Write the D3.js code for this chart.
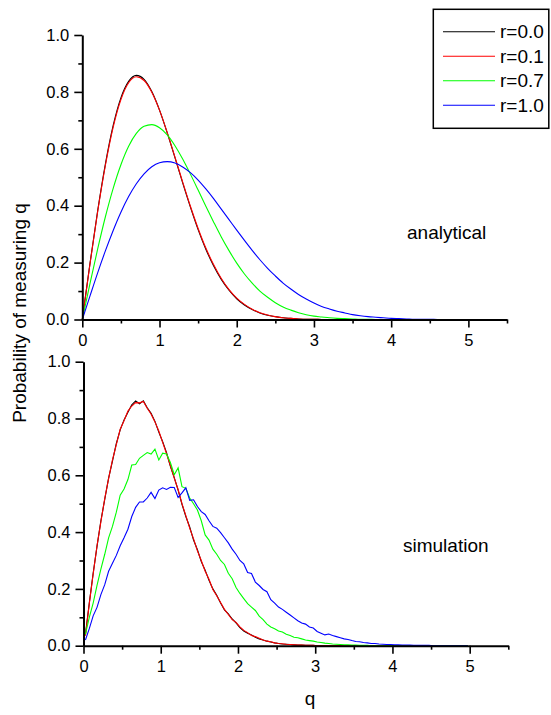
<!DOCTYPE html>
<html>
<head>
<meta charset="utf-8">
<script src="https://cdn.jsdelivr.net/npm/d3@7"></script>
<style>
body { margin: 0; background: #fff; }
svg text { font-family: "Liberation Sans", Arial, sans-serif; fill: #000; }
</style>
</head>
<body>
<script>
// q sampling of the analytical curves
var qAnalytic = [0,0.1,0.2,0.3,0.4,0.5,0.6,0.7,0.8,0.9,1.0,1.1,1.2,1.3,1.4,1.5,1.6,1.7,1.8,1.9,
    2.0,2.1,2.2,2.3,2.4,2.5,2.6,2.7,2.8,2.9,3.0,3.1,3.2,3.3,3.4,3.5,3.6,3.7,3.8,3.9,
    4.0,4.1,4.2,4.3,4.4,4.5,4.6,4.7,4.8,4.9,5.0];

var anaR00 = [0,0.198,0.384,0.548,0.682,0.779,0.837,0.858,0.844,0.801,0.736,0.656,0.569,0.480,0.395,0.316,0.247,0.189,0.141,0.103,
    0.073,0.051,0.035,0.023,0.015,0.010,0.006,0.004,0.002,0.001,0.001,
    0,0,0,0,0,0,0,0,0,0,0,0,0,0,0,0,0,0,0,0];
var anaR01 = [0,0.196,0.381,0.543,0.676,0.773,0.832,0.853,0.840,0.799,0.736,0.657,0.571,0.483,0.398,0.320,0.251,0.193,0.144,0.105,
    0.075,0.053,0.036,0.024,0.016,0.010,0.006,0.004,0.002,0.001,0.001,
    0,0,0,0,0,0,0,0,0,0,0,0,0,0,0,0,0,0,0,0];
var anaR07 = [0,0.127,0.249,0.362,0.461,0.544,0.609,0.654,0.679,0.685,0.674,0.649,0.611,0.564,0.511,0.455,0.398,0.343,0.290,0.242,
    0.198,0.160,0.128,0.100,0.078,0.059,0.044,0.033,0.024,0.017,0.012,0.009,0.006,0.004,0.003,0.002,0.001,0.001,
    0,0,0,0,0,0,0,0,0,0,0,0,0];
var anaR10 = [0,0.083,0.165,0.242,0.313,0.377,0.432,0.477,0.512,0.537,0.551,0.555,0.550,0.536,0.516,0.490,0.459,0.425,0.388,0.351,
    0.314,0.278,0.243,0.210,0.180,0.153,0.128,0.107,0.088,0.072,0.058,0.046,0.037,0.029,0.023,0.017,0.013,0.010,0.008,0.006,
    0.004,0.003,0.002,0.001,0.001,0.001,0,0,0,0,0];

// bin centres of the simulated histograms
var qSim = [0.025,0.075,0.125,0.175,0.225,0.275,0.325,0.375,0.425,0.475,0.525,0.575,0.625,0.675,0.725,0.775,0.825,0.875,0.925,0.975,
    1.025,1.075,1.125,1.175,1.225,1.275,1.325,1.375,1.425,1.475,1.525,1.575,1.625,1.675,1.725,1.775,1.825,1.875,1.925,1.975,
    2.025,2.075,2.125,2.175,2.225,2.275,2.325,2.375,2.425,2.475,2.525,2.575,2.625,2.675,2.725,2.775,2.825,2.875,2.925,2.975,
    3.025,3.075,3.125,3.175,3.225,3.275,3.325,3.375,3.425,3.475,3.525,3.575,3.625,3.675,3.725,3.775,3.825,3.875,3.925,3.975,
    4.025,4.075,4.125,4.175,4.225,4.275,4.325,4.375,4.425,4.475,4.525,4.575,4.625,4.675,4.725,4.775,4.825,4.875,4.925,4.975];

var simR00 = [0.040,0.150,0.255,0.350,0.440,0.515,0.590,0.650,0.712,0.760,0.795,0.822,0.848,0.862,0.852,0.862,0.838,0.818,0.790,0.752,
    0.718,0.680,0.632,0.592,0.548,0.498,0.455,0.418,0.372,0.338,0.296,0.266,0.230,0.200,0.178,0.150,0.126,0.112,0.094,0.080,
    0.064,0.052,0.044,0.038,0.030,0.024,0.020,0.016,0.013,0.010,0.008,0.006,0.005,0.004,0.003,0.002,0.002,0.001,0.001,0.001,
    0,0,0,0,0,0,0,0,0,0,0,0,0,0,0,0,0,0,0,0,0,0,0,0,0,0,0,0,0,0,0,0,0,0,0,0,0,0,0,0];
var simR01 = [0.035,0.148,0.252,0.352,0.436,0.518,0.588,0.654,0.708,0.762,0.792,0.826,0.844,0.856,0.855,0.860,0.836,0.816,0.788,0.756,
    0.716,0.676,0.634,0.590,0.550,0.500,0.458,0.414,0.376,0.334,0.300,0.262,0.234,0.198,0.176,0.152,0.128,0.110,0.092,0.082,
    0.066,0.054,0.046,0.036,0.032,0.026,0.020,0.016,0.014,0.010,0.008,0.007,0.005,0.004,0.003,0.002,0.002,0.001,0.001,0.001,
    0,0,0,0,0,0,0,0,0,0,0,0,0,0,0,0,0,0,0,0,0,0,0,0,0,0,0,0,0,0,0,0,0,0,0,0,0,0,0,0];
var simR07 = [0.040,0.100,0.150,0.212,0.270,0.322,0.380,0.420,0.470,0.530,0.552,0.585,0.636,0.638,0.660,0.670,0.680,0.675,0.692,0.654,
    0.678,0.675,0.645,0.602,0.626,0.560,0.554,0.520,0.500,0.478,0.440,0.390,0.372,0.340,0.322,0.300,0.286,0.255,0.236,0.205,
    0.184,0.166,0.148,0.136,0.124,0.104,0.092,0.076,0.066,0.060,0.052,0.048,0.040,0.036,0.030,0.028,0.024,0.020,0.018,0.016,
    0.013,0.011,0.009,0.008,0.006,0.005,0.004,0.003,0.003,0.002,0.002,0.001,0.001,0.001,
    0,0,0,0,0,0,0,0,0,0,0,0,0,0,0,0,0,0,0,0,0,0,0,0,0,0];
var simR10 = [0.020,0.060,0.105,0.135,0.180,0.215,0.262,0.290,0.318,0.352,0.380,0.410,0.455,0.487,0.506,0.506,0.520,0.540,0.518,0.548,
    0.556,0.550,0.558,0.557,0.522,0.538,0.556,0.512,0.514,0.490,0.472,0.462,0.440,0.420,0.414,0.398,0.380,0.362,0.340,0.322,
    0.300,0.288,0.258,0.254,0.224,0.212,0.198,0.190,0.162,0.150,0.136,0.128,0.118,0.108,0.098,0.088,0.080,0.076,0.066,0.062,
    0.050,0.044,0.038,0.041,0.036,0.032,0.028,0.024,0.022,0.018,0.015,0.014,0.011,0.010,0.008,0.008,0.006,0.005,0.004,0.004,
    0.003,0.003,0.002,0.002,0.002,0.001,0.001,0.001,0.001,0.001,0,0,0,0,0,0,0,0,0,0];

var seriesNames = ["r=0.0", "r=0.1", "r=0.7", "r=1.0"];
var seriesColors = ["#000000", "#ff0000", "#00ff00", "#0000ff"];

var xMajor = [0, 1, 2, 3, 4, 5],
    xMinor = [0.5, 1.5, 2.5, 3.5, 4.5, 5.5],
    yMajor = [0, 0.2, 0.4, 0.6, 0.8, 1.0],
    yMinor = [0.1, 0.3, 0.5, 0.7, 0.9];

var width = 551, height = 715;

var svg = d3.select("body").append("svg")
    .attr("width", width)
    .attr("height", height);

function drawPanel(box, grid, values, curve, title, titlePos){
    var x = d3.scaleLinear().domain([0, 5.5]).range([box.left, box.right]);
    var y = d3.scaleLinear().domain([0, 1]).range([box.bottom, box.top]);

    var line = d3.line()
        .curve(curve)
        .x(function(d){ return x(d[0]); })
        .y(function(d){ return y(d[1]); });

    values.forEach(function(vals, i){
        var pts = grid.map(function(q, j){ return [q, vals[j]]; });
        svg.append("path")
            .datum(pts)
            .attr("fill", "none")
            .attr("stroke", seriesColors[i])
            .attr("stroke-width", 1.1)
            .attr("d", line);
    });

    //major + minor ticks on both axes
    svg.append("g")
        .attr("transform", "translate(" + box.left + ",0)")
        .call(d3.axisLeft(y).tickValues(yMajor).tickSize(8).tickSizeOuter(0)
            .tickPadding(5).tickFormat(d3.format(".1f")));
    svg.append("g")
        .attr("class", "minor")
        .attr("transform", "translate(" + box.left + ",0)")
        .call(d3.axisLeft(y).tickValues(yMinor).tickSize(4).tickFormat(""));

    svg.append("g")
        .attr("transform", "translate(0," + box.bottom + ")")
        .call(d3.axisBottom(x).tickValues(xMajor).tickSize(8).tickSizeOuter(0)
            .tickPadding(7).tickFormat(d3.format("d")));
    svg.append("g")
        .attr("class", "minor")
        .attr("transform", "translate(0," + box.bottom + ")")
        .call(d3.axisBottom(x).tickValues(xMinor).tickSize(4).tickFormat(""));

    svg.selectAll(".minor .domain").remove();
    svg.selectAll(".domain").attr("stroke", "#000").attr("stroke-width", 2);
    svg.selectAll(".tick line").attr("stroke", "#000").attr("stroke-width", 1.6);
    svg.selectAll(".tick text").attr("font-size", 16.5);

    svg.append("text")
        .attr("x", titlePos[0])
        .attr("y", titlePos[1])
        .attr("font-size", 19)
        .text(title);
}

drawPanel({left: 82.3, right: 507, top: 35, bottom: 319.5}, qAnalytic,
    [anaR00, anaR01, anaR07, anaR10], d3.curveMonotoneX, "analytical", [407, 239]);
drawPanel({left: 83.5, right: 508.3, top: 361.7, bottom: 645.7}, qSim,
    [simR00, simR01, simR07, simR10], d3.curveLinear, "simulation", [403, 552]);

//axis titles
svg.append("text")
    .attr("transform", "translate(26,313) rotate(-90)")
    .attr("text-anchor", "middle")
    .attr("font-size", 19)
    .text("Probability of measuring q");

svg.append("text")
    .attr("x", 310)
    .attr("y", 705)
    .attr("text-anchor", "middle")
    .attr("font-size", 19)
    .text("q");

//legend
var legend = svg.append("g");
legend.append("rect")
    .attr("x", 433.3).attr("y", 9.3)
    .attr("width", 115.5).attr("height", 119)
    .attr("fill", "#fff")
    .attr("stroke", "#000")
    .attr("stroke-width", 1.5);

var rows = legend.selectAll(".row")
    .data(seriesNames)
    .enter().append("g")
    .attr("transform", function(d, i){ return "translate(0," + (31.7 + i * 24.5) + ")"; });
rows.append("line")
    .attr("x1", 443).attr("x2", 495)
    .attr("stroke", function(d, i){ return seriesColors[i]; })
    .attr("stroke-width", 1.1);
rows.append("text")
    .attr("x", 500).attr("y", 6.5)
    .attr("font-size", 19)
    .text(function(d){ return d; });
</script>
</body>
</html>
